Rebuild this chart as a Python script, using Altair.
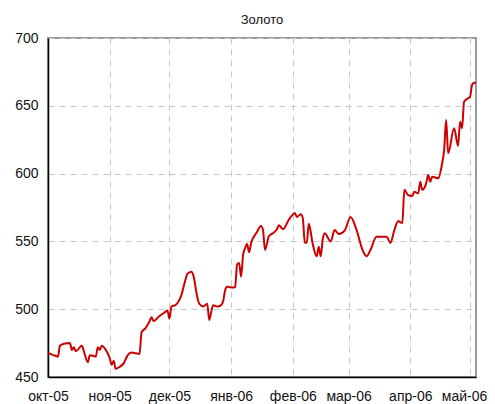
import altair as alt
import pandas as pd

dates = [
    "2005-10-01", "2005-10-03", "2005-10-05", "2005-10-06", "2005-10-07", "2005-10-09",
    "2005-10-12", "2005-10-13", "2005-10-14", "2005-10-15", "2005-10-18", "2005-10-19",
    "2005-10-21", "2005-10-22", "2005-10-24", "2005-10-25", "2005-10-26", "2005-10-27",
    "2005-10-28", "2005-10-30", "2005-11-01", "2005-11-02", "2005-11-03", "2005-11-04",
    "2005-11-06", "2005-11-08", "2005-11-10", "2005-11-12", "2005-11-14", "2005-11-16",
    "2005-11-17", "2005-11-19", "2005-11-21", "2005-11-22", "2005-11-23", "2005-11-26",
    "2005-11-29", "2005-11-30", "2005-12-01", "2005-12-02", "2005-12-04", "2005-12-07",
    "2005-12-09", "2005-12-10", "2005-12-12", "2005-12-13", "2005-12-15", "2005-12-16",
    "2005-12-18", "2005-12-20", "2005-12-21", "2005-12-22", "2005-12-23", "2005-12-25",
    "2005-12-27", "2005-12-28", "2005-12-29", "2005-12-30",
    "2006-01-02", "2006-01-03", "2006-01-04", "2006-01-05", "2006-01-06", "2006-01-07",
    "2006-01-08", "2006-01-09", "2006-01-10", "2006-01-11", "2006-01-14", "2006-01-16",
    "2006-01-17", "2006-01-18", "2006-01-20", "2006-01-22", "2006-01-24", "2006-01-25",
    "2006-01-27", "2006-01-30", "2006-01-31", "2006-02-02", "2006-02-03", "2006-02-05",
    "2006-02-06", "2006-02-07", "2006-02-08", "2006-02-09", "2006-02-11", "2006-02-13",
    "2006-02-14", "2006-02-15", "2006-02-16", "2006-02-17", "2006-02-20", "2006-02-22",
    "2006-02-24", "2006-02-27", "2006-03-02", "2006-03-05", "2006-03-08", "2006-03-10",
    "2006-03-12", "2006-03-15", "2006-03-20", "2006-03-22", "2006-03-24", "2006-03-26",
    "2006-03-27", "2006-03-28", "2006-03-29", "2006-03-31", "2006-04-02", "2006-04-03",
    "2006-04-05", "2006-04-06", "2006-04-07", "2006-04-09", "2006-04-10", "2006-04-11",
    "2006-04-12", "2006-04-15", "2006-04-17", "2006-04-18", "2006-04-19", "2006-04-20",
    "2006-04-23", "2006-04-25", "2006-04-26", "2006-04-27", "2006-04-28", "2006-04-30",
    "2006-05-01", "2006-05-02", "2006-05-03", "2006-05-04",
]

prices = [
    468, 466.5, 465.5, 465, 473, 474.5,
    475, 470, 472, 469, 473, 469,
    461, 466, 465.5, 465, 472, 470,
    473, 470, 464, 459, 462, 456,
    457.5, 460, 466, 468, 467.5, 467,
    483, 486, 491, 494, 491.3, 495,
    498, 499, 493, 502, 503, 510.5,
    521.5, 526, 527.7, 525, 509, 504,
    502, 504, 492, 498, 503, 502,
    503, 506, 514, 516.5,
    516, 516.5, 533, 534, 524, 540,
    545, 548, 542, 548.6, 557, 561.4,
    558.4, 543.7, 554, 556, 559, 562,
    559, 566, 568, 571, 568, 570,
    567, 549, 549, 563, 548, 539,
    546, 539, 551.6, 556, 550, 558.4,
    555.5, 558, 568, 558.4, 543.7, 539,
    543.7, 553.5, 553.5, 549, 558.4, 565,
    564, 563.5, 588, 584, 583.5, 586.6,
    585.5, 594, 588, 593, 599, 594,
    597.7, 596.5, 607.6, 617.4, 639.5, 615,
    633.4, 620.4, 638.3, 633.4, 653, 655.5,
    656.7, 665.3, 667, 667,
]

y_ticks = [450, 500, 550, 600, 650, 700]
month_labels = ["янв", "фев", "мар", "апр", "май", "июн", "июл", "авг", "сен", "окт", "ноя", "дек"]
title_text = "Золото"

df = pd.DataFrame({"date": [d + "T00:00:00" for d in dates], "price": prices})

month_vals = [
    alt.DateTime(year=2005, month=10, date=1),
    alt.DateTime(year=2005, month=11, date=1),
    alt.DateTime(year=2005, month=12, date=1),
    alt.DateTime(year=2006, month=1, date=1),
    alt.DateTime(year=2006, month=2, date=1),
    alt.DateTime(year=2006, month=3, date=1),
    alt.DateTime(year=2006, month=4, date=1),
    alt.DateTime(year=2006, month=5, date=1),
]

label_expr = (
    "[" + ",".join("'" + m + "'" for m in month_labels) + "][month(datum.value)]"
    " + '-' + timeFormat(datum.value, '%y')"
)

font = "Liberation Sans"

chart = (
    alt.Chart(df)
    .mark_line(color="#cc0000", strokeWidth=2, interpolate="monotone")
    .encode(
        x=alt.X(
            "date:T",
            scale=alt.Scale(
                domain=[
                    alt.DateTime(year=2005, month=10, date=1),
                    alt.DateTime(year=2006, month=5, date=4),
                ],
                nice=False,
            ),
            axis=alt.Axis(
                title=None,
                values=month_vals,
                labelExpr=label_expr,
                ticks=False,
                labelPadding=12,
                labelOffset={"expr": "month(datum.value) == 4 ? -6 : 0"},
                labelFontSize=14,
                labelFont=font,
                labelColor="#111111",
                labelOverlap=False,
                labelFlush=False,
                domainColor="#000000",
                domainWidth=1.5,
                grid=True,
                gridColor="#c8c8c8",
                gridDash=[6, 5],
                gridWidth=1,
            ),
        ),
        y=alt.Y(
            "price:Q",
            scale=alt.Scale(domain=[450, 700], nice=False, zero=False),
            axis=alt.Axis(
                title=None,
                values=y_ticks,
                ticks=False,
                labelPadding=10,
                labelFontSize=14,
                labelFont=font,
                labelColor="#111111",
                domainColor="#000000",
                domainWidth=1.5,
                grid=True,
                gridColor="#c8c8c8",
                gridDash=[6, 5],
                gridWidth=1,
            ),
        ),
    )
    .properties(
        width=428,
        height=339,
        title=alt.TitleParams(
            text=title_text, font=font, fontSize=13, fontWeight="normal",
            color="#111111", offset=4, anchor="middle",
        ),
        autosize=alt.AutoSizeParams(type="none"),
        padding={"left": 40, "top": 30, "right": 11, "bottom": 27},
    )
    .configure_view(stroke="#9a9a9a", strokeWidth=2)
)

chart.save("out.html", embed_options={"renderer": "svg", "actions": False})
